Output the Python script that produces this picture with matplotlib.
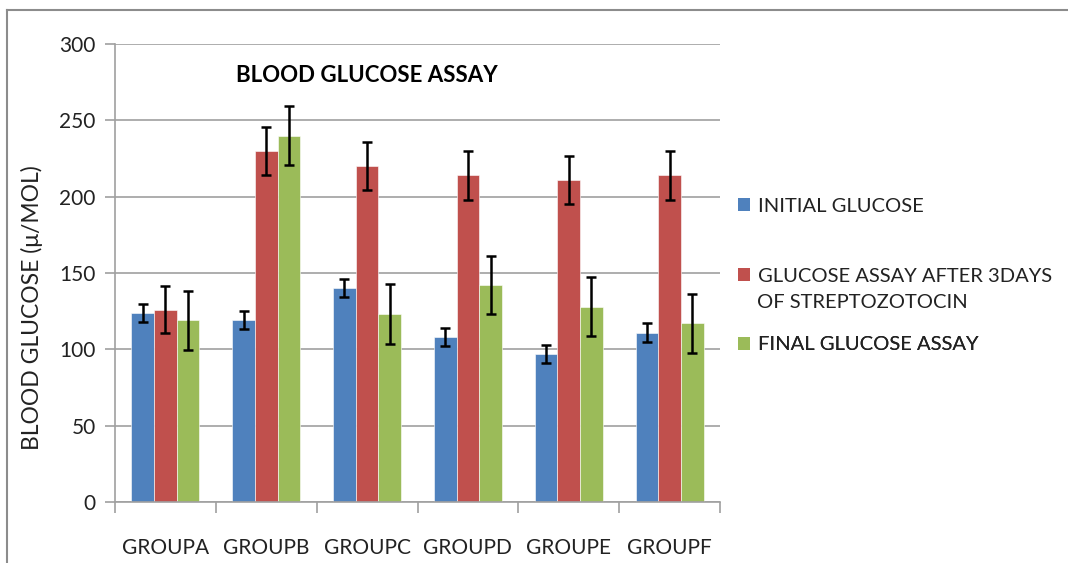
import numpy as np
import matplotlib
matplotlib.use("Agg")
import matplotlib.pyplot as plt
from matplotlib.lines import Line2D
from matplotlib.patches import Patch

# Datos
grupos = ["GROUPA", "GROUPB", "GROUPC", "GROUPD", "GROUPE", "GROUPF"]
series = ["INITIAL GLUCOSE",
          "GLUCOSE ASSAY AFTER 3DAYS",
          "FINAL GLUCOSE ASSAY"]
inicial = [124, 119, 140, 108, 97, 111]
tres_dias = [126, 230, 220, 214, 211, 214]
final = [119, 240, 123, 142, 128, 117]
err_inicial = [6, 6, 6, 6, 6, 6]
err_tres_dias = [15.5, 15.5, 15.5, 16, 15.5, 16]
err_final = [19.5, 19.5, 19.5, 19, 19.5, 19.5]

COLORES = ["#4F81BD", "#C0504D", "#9BBB59"]
GRIS = "#A0A0A0"
TEXTO = "#222222"
W, H = 1068, 563

plt.rcParams.update({
    "font.family": ["Lato", "DejaVu Sans"],
    "font.size": 15,
})

fig = plt.figure(figsize=(W / 100, H / 100), dpi=100)
ax = fig.add_axes([115 / W, 1 - 502 / H, 605 / W, 458 / H])

# borde del area del grafico (solo se ve arriba y a la izquierda)
borde = dict(color="#8C8C8C", linewidth=1.5, transform=fig.transFigure)
fig.add_artist(Line2D([7 / W, 7 / W], [0, 1 - 10 / H], **borde))
fig.add_artist(Line2D([7 / W, 1], [1 - 10 / H, 1 - 10 / H], **borde))

x = np.arange(len(grupos))
w = 0.225
datos = [inicial, tres_dias, final]
errores = [err_inicial, err_tres_dias, err_final]
for i, (vals, errs) in enumerate(zip(datos, errores)):
    ax.bar(x + (i - 1) * w, vals, width=w, color=COLORES[i],
           edgecolor="white", linewidth=0.4, zorder=2)
    ax.errorbar(x + (i - 1) * w, vals, yerr=errs, fmt="none",
                ecolor="black", elinewidth=1.8, capsize=3.6,
                capthick=1.8, zorder=3)

ax.set_xlim(-0.5, len(grupos) - 0.5)
ax.set_ylim(0, 300)
ax.set_yticks(range(0, 301, 50))
ax.yaxis.grid(True, color=GRIS, linewidth=1.2)
ax.set_axisbelow(True)

# ticks del eje x en los limites de cada categoria
ax.set_xticks(np.arange(-0.5, len(grupos), 1.0))
ax.set_xticklabels([])
ax.set_xticks(x, minor=True)
ax.set_xticklabels(grupos, minor=True)
ax.tick_params(axis="x", which="major", length=8, width=1.2, color=GRIS)
ax.tick_params(axis="x", which="minor", length=0, pad=26, labelsize=15,
               labelcolor=TEXTO)
ax.tick_params(axis="y", length=7, width=1.2, color=GRIS, pad=7,
               labelsize=15, labelcolor=TEXTO)

for s in ["top", "right"]:
    ax.spines[s].set_visible(False)
for s in ["left", "bottom"]:
    ax.spines[s].set_color(GRIS)
    ax.spines[s].set_linewidth(1.2)

ax.set_ylabel("BLOOD GLUCOSE (\u03bc/MOL)", fontsize=16.5, color=TEXTO)
ax.yaxis.set_label_coords((43 - 115) / 605, (502 - 308) / 458)
ax.text((236 - 115) / 605, (502 - 76) / 458, "BLOOD GLUCOSE ASSAY",
        transform=ax.transAxes, fontsize=16, fontweight="bold",
        color="black", va="center")

# leyenda: una entrada por serie, colocadas como en el original
centros = [206, 276, 345]
for i in range(3):
    leg = ax.legend([Patch(facecolor=COLORES[i])], [series[i]],
                    loc="center left",
                    bbox_to_anchor=((738 - 115) / 605, (502 - centros[i]) / 458),
                    frameon=False, fontsize=14.5, labelcolor=TEXTO,
                    handlelength=0.62, handleheight=0.62, handletextpad=0.35,
                    borderpad=0, borderaxespad=0)
    ax.add_artist(leg)
ax.text((757 - 115) / 605, (502 - 303) / 458, "OF STREPTOZOTOCIN",
        transform=ax.transAxes, fontsize=14.5, color=TEXTO, va="center")

fig.savefig("out.png", dpi=100, facecolor="white")
